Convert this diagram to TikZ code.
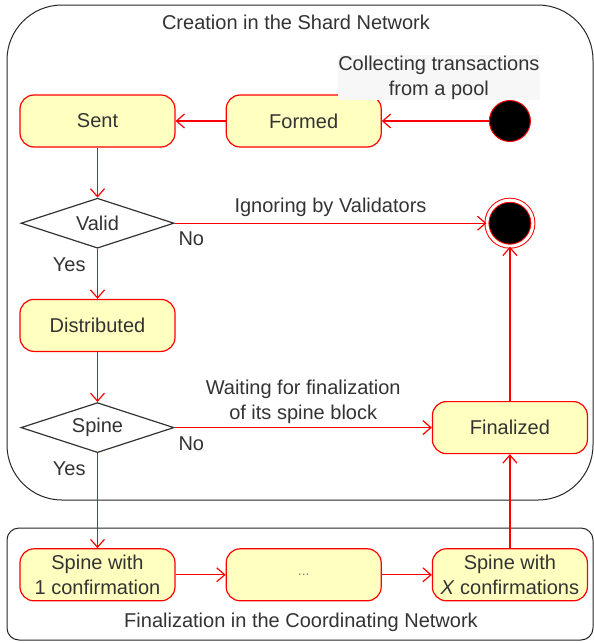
\documentclass[tikz,border=0pt]{standalone}
\usepackage{fontspec}
\setmainfont{Liberation Sans}
\usetikzlibrary{arrows.meta,positioning,shapes.geometric}
\definecolor{statefill}{HTML}{FFFFC0}
\definecolor{inkgray}{HTML}{333333}

\begin{document}
\begin{tikzpicture}[
  x=1pt, y=-1pt,
  node distance=50pt and 50pt,
  every node/.style={font=\fontsize{20}{25}\selectfont,text=inkgray},
  state/.style={draw=red,fill=statefill,line width=1.2pt,rounded corners=14pt,align=center,minimum width=155pt,minimum height=52pt,inner sep=1pt},
  choice/.style={diamond,aspect=3,draw=inkgray,fill=white,line width=1.2pt,minimum width=153pt,minimum height=50pt,inner sep=0pt},
  group/.style={draw=black!85,line width=1pt,minimum width=586pt,inner sep=0pt},
  note/.style={align=center,inner sep=0.5pt},
  guard/.style={pos=0,yshift=-5pt},
  edge/.style={draw=red,line width=1.2pt,-{Straight Barb[length=8pt,width=14pt,line width=1.2pt]}}
]
\useasboundingbox (0,0) rectangle (594,643);
\node[group,rounded corners=55pt,minimum height=495pt] (shard) at (300,252.5) {};
\node[group,rounded corners=12pt,minimum height=112pt] (coord) at (300,584) {};
\node (shardtitle) at (296,22) {Creation in the Shard Network};
\node (coordtitle) at (301,622) {Finalization in the Coordinating Network};
\node[state] (sent) at (97.5,121) {Sent};
\node[state,right=of sent] (formed) {Formed};
\node[choice,below=of sent] (valid) {Valid};
\node[state,below=of valid] (distrib) {Distributed};
\node[choice,below=of distrib] (spine) {Spine};
\node[state,below=95pt of spine] (conf1) {Spine with\\1 confirmation};
\node[state,right=of conf1] (dots) {\fontsize{14}{16}\selectfont\color{gray}...};
\node[state,right=of dots] (confx) {Spine with\\\textit{X} confirmations};
\node[state] (fin) at (confx |- spine) {Finalized};
\node[circle,fill=black,draw=red,line width=1pt,minimum size=41pt,inner sep=0pt] (start) at (fin |- sent) {};
\node[circle,fill=black,draw=red,line width=1pt,double=white,double distance=3pt,minimum size=46pt,inner sep=0pt] (end) at (fin |- valid) {};
\node[note,fill=black!3,above=0pt of start.north,xshift=-71pt] (pool) {Collecting transactions\\from a pool};
\draw[edge] (start) -- (formed);
\draw[edge] (formed) -- (sent);
\draw[edge] (sent) -- (valid);
\draw[edge] (valid) -- node[guard,below left,xshift=-8pt]{Yes} (distrib);
\draw[edge] (valid.east) -- node[above,yshift=3pt]{Ignoring by Validators} node[guard,below right]{No} (end);
\draw[edge] (distrib) -- (spine);
\draw[edge] (spine.east) -- node[above,align=center]{Waiting for finalization\\of its spine block} node[guard,below right]{No} (fin);
\draw[edge] (spine) -- node[guard,below left,xshift=-8pt]{Yes} (conf1);
\draw[edge] (conf1) -- (dots);
\draw[edge] (dots) -- (confx);
\draw[edge] (confx) -- (fin);
\draw[edge] (fin) -- (end);
\end{tikzpicture}
\end{document}
